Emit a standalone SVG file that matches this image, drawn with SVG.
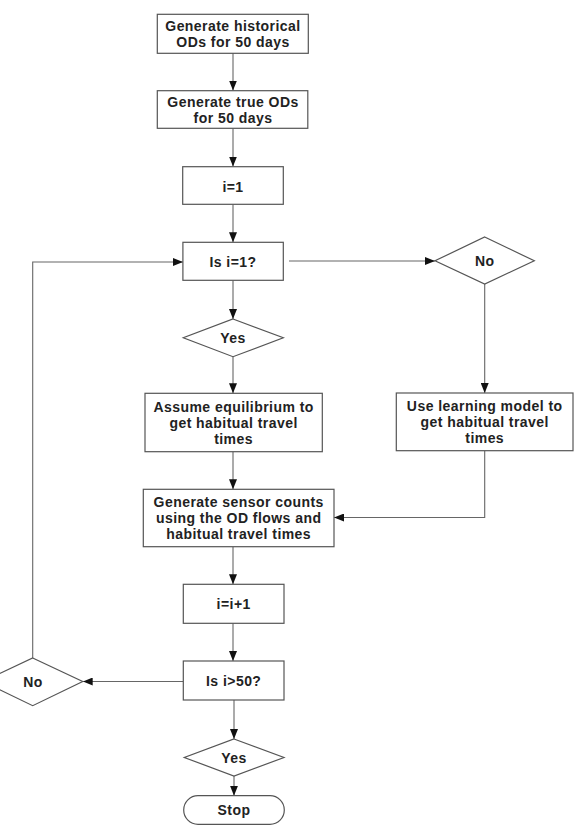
<svg xmlns="http://www.w3.org/2000/svg" width="574" height="828" viewBox="0 0 574 828">
<defs>
<marker id="ah" viewBox="0 0 10 8" refX="10" refY="4" markerWidth="10" markerHeight="8" markerUnits="userSpaceOnUse" orient="auto">
<path d="M0,0 L10,4 L0,8 Z" fill="#111"/>
</marker>
<style>
.n{fill:#fff;stroke:#555;stroke-width:1.2}
.t{font-family:"Liberation Sans",Arial,sans-serif;font-size:14px;font-weight:bold;letter-spacing:0.45px;fill:#222;text-anchor:middle}
.c{fill:none;stroke:#666;stroke-width:1.1}
.a{marker-end:url(#ah)}
</style>
</defs>
<rect width="574" height="828" fill="#fff"/>
<g id="connectors">
<line class="c a" x1="233" y1="53" x2="233" y2="90.5"/>
<line class="c a" x1="233" y1="128.5" x2="233" y2="166.5"/>
<line class="c a" x1="233" y1="204.5" x2="233" y2="242.3"/>
<line class="c a" x1="233" y1="280.5" x2="233" y2="319"/>
<line class="c a" x1="233" y1="356.7" x2="233" y2="393.3"/>
<line class="c a" x1="233" y1="451.7" x2="233" y2="489.3"/>
<line class="c a" x1="289" y1="261" x2="435" y2="261"/>
<line class="c a" x1="484.7" y1="284" x2="484.7" y2="393"/>
<polyline class="c a" points="484.7,451 484.7,517.5 334,517.5"/>
<line class="c a" x1="233" y1="546.7" x2="233" y2="584.3"/>
<line class="c a" x1="233" y1="623.3" x2="233" y2="661"/>
<line class="c a" x1="183.3" y1="681.5" x2="82.7" y2="681.5"/>
<polyline class="c a" points="32.7,658 32.7,262 183,262"/>
<line class="c a" x1="234" y1="700" x2="234" y2="739"/>
<line class="c a" x1="234" y1="776" x2="234" y2="795.7"/>
</g>
<g id="n1"><rect class="n" x="157.3" y="14.3" width="151" height="39"/><text class="t" x="233" y="30.7">Generate historical</text><text class="t" x="233" y="46.7">ODs for 50 days</text></g>
<g id="n2"><rect class="n" x="157.3" y="90.7" width="150.5" height="37.6"/><text class="t" x="233" y="106.5">Generate true ODs</text><text class="t" x="233" y="122.5">for 50 days</text></g>
<g id="n3"><rect class="n" x="182.7" y="166.7" width="100.6" height="37.6"/><text class="t" x="233" y="191.5">i=1</text></g>
<g id="n4"><rect class="n" x="182.9" y="242.3" width="100.4" height="38"/><text class="t" x="233" y="266.5">Is i=1?</text></g>
<g id="n5"><polygon class="n" points="233,319 283.3,337.8 233,356.7 183.3,337.8"/><text class="t" x="233" y="342.5">Yes</text></g>
<g id="n6"><polygon class="n" points="484.7,237 534.3,260.8 484.7,284 435,260.8"/><text class="t" x="484.7" y="265.5">No</text></g>
<g id="n7"><rect class="n" x="145" y="393.3" width="177.3" height="58.4"/><text class="t" x="233.6" y="412">Assume equilibrium to</text><text class="t" x="233.6" y="428">get habitual travel</text><text class="t" x="233.6" y="444">times</text></g>
<g id="n8"><rect class="n" x="396.3" y="393" width="176.7" height="57.7"/><text class="t" x="484.7" y="410.5">Use learning model to</text><text class="t" x="484.7" y="426.5">get habitual travel</text><text class="t" x="484.7" y="442.5">times</text></g>
<g id="n9"><rect class="n" x="143.3" y="489.3" width="190.7" height="57.4"/><text class="t" x="238.7" y="506.8">Generate sensor counts</text><text class="t" x="238.7" y="522.8">using the OD flows and</text><text class="t" x="238.7" y="538.8">habitual travel times</text></g>
<g id="n10"><rect class="n" x="183.3" y="584.3" width="100.7" height="39"/><text class="t" x="233.7" y="608.5">i=i+1</text></g>
<g id="n11"><rect class="n" x="183.3" y="661" width="100.7" height="39"/><text class="t" x="233.7" y="686">Is i&gt;50?</text></g>
<g id="n12"><polygon class="n" points="32.7,658 82.7,681.5 32.7,705.7 -17.3,681.5"/><text class="t" x="33" y="686.5">No</text></g>
<g id="n13"><polygon class="n" points="234,739 284,757.5 234,776 184.3,757.5"/><text class="t" x="234" y="762.5">Yes</text></g>
<g id="n14"><rect class="n" x="183.7" y="795.7" width="100.6" height="28.6" rx="14.3"/><text class="t" x="234" y="814.5">Stop</text></g>
</svg>
